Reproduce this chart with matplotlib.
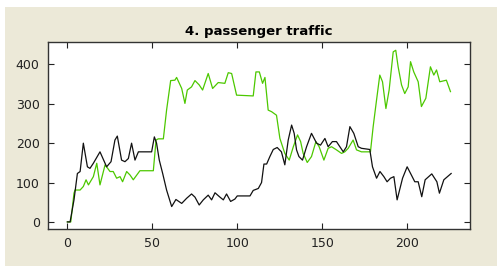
import matplotlib
matplotlib.use("Agg")
import matplotlib.pyplot as plt
import matplotlib.patches as mpatches

# vertices (x = sample index, y = passengers)
black_x = [0, 1.6, 3.9, 5.9, 7.5, 9.4, 11.8, 13.3, 15.3, 19.2, 23.1, 25.7, 28, 29.4, 31.9,
           33.9, 35.9, 37.8, 39.8, 41.8, 49.6, 51.2, 52.5, 54.1, 56.1, 58.4, 61.4, 63.9,
           67.3, 70.2, 73.1, 75.1, 77.6, 80, 82.9, 84.9, 86.9, 89.8, 91.8, 93.7, 96.1,
           98.6, 100, 107.5, 109.4, 112.4, 114.3, 115.7, 117.3, 119.2, 121.2, 123.5, 126,
           128, 130, 132, 133.5, 134.9, 136.3, 138.4, 140.8, 143.7, 146.7, 149, 151.6,
           153.5, 156, 158.4, 160.4, 162.4, 164.3, 166.3, 168.6, 171.2, 173.1, 178, 179.6,
           182, 184, 186.3, 188.2, 190.2, 192.2, 194.1, 197.3, 200, 202.5, 204.5, 206.5,
           208.6, 210.6, 214.5, 217.5, 219, 221.6, 225.9]
black_y = [0, 0, 56, 123, 128, 200, 140, 136, 149, 178, 140, 153, 208, 218, 157,
           153, 161, 200, 157, 178, 178, 216, 200, 157, 123, 81, 39, 57,
           47, 60, 71, 63, 43, 56, 68, 56, 74, 63, 56, 71, 52,
           58, 66, 66, 80, 85, 100, 147, 147, 166, 184, 189, 178,
           145, 208, 246, 225, 183, 166, 157, 191, 225, 200, 195, 212,
           191, 204, 204, 191, 178, 191, 242, 225, 191, 187, 184, 140,
           111, 128, 115, 102, 111, 115, 56, 111, 140, 119, 102, 102,
           64, 107, 122, 102, 73, 107, 123]

green_x = [0, 2, 3.9, 4.5, 7.5, 9.4, 11, 12.4, 15.3, 17.3, 19.2, 22.2, 25.1, 27, 29,
           31, 32.5, 34.9, 36.9, 38.8, 42.7, 50.6, 52.2, 53.5, 56.5, 58.4, 60.8, 63.3,
           64.3, 67.3, 69.2, 70.6, 73.1, 75.1, 77.6, 79.6, 82.9, 85.5, 88.8, 92.7, 94.7,
           96.7, 99.6, 109.4, 111, 113, 114.9, 116.3, 118.2, 120.2, 123.1, 125.1, 128,
           130.6, 133, 135.5, 137.3, 138.8, 141.2, 143.7, 146.3, 148.2, 151, 153.5,
           155.5, 158.4, 161.4, 163.3, 165.3, 168.2, 170.2, 173.1, 178.4, 180, 182,
           183.9, 185.5, 187.5, 189.4, 191.8, 193.3, 194.7, 196.7, 198.6, 200.6, 202,
           203.9, 206.5, 208.4, 211, 213.7, 215.7, 217.3, 219.2, 223.1, 225.5]
green_y = [0, 0, 73, 81, 81, 90, 107, 94, 115, 149, 94, 145, 128, 128, 111,
           115, 102, 128, 119, 107, 130, 130, 208, 211, 211, 284, 359, 360,
           367, 339, 301, 335, 343, 359, 348, 335, 377, 339, 354, 352, 379,
           377, 322, 320, 381, 381, 352, 367, 284, 280, 271, 212, 174,
           157, 191, 221, 204, 174, 151, 166, 204, 191, 157, 187,
           191, 183, 174, 178, 187, 208, 183, 178, 178, 242, 310,
           373, 356, 288, 335, 432, 436, 394, 348, 326, 343, 407,
           381, 356, 293, 314, 394, 373, 386, 356, 360, 331]

xticks = [0, 50, 100, 150, 200]
yticks = [0, 100, 200, 300, 400]

fig = plt.figure(figsize=(4.97, 2.66), dpi=100, facecolor='white')
# beige panel behind the axes (window background)
fig.patches.append(mpatches.Rectangle((5 / 497, 0), 1, 259 / 266, transform=fig.transFigure,
                                      facecolor='#ECE9D8', edgecolor='none', zorder=-1))

ax = fig.add_axes([48 / 497, 1 - 229 / 266, 422 / 497, 187 / 266])
ax.plot(green_x, green_y, color='#4cc800', linewidth=0.9)
ax.plot(black_x, black_y, color='#111111', linewidth=0.9)

ax.set_xlim(-11.4, 237)
ax.set_ylim(-18, 457)
ax.set_xticks(xticks)
ax.set_yticks(yticks)
ax.tick_params(direction='in', length=4, top=True, right=True, labelsize=9,
               colors='#222222', pad=6)
for s in ax.spines.values():
    s.set_color('#333333')
    s.set_linewidth(1.0)

ax.set_title('4. passenger traffic', fontsize=9.5, fontweight='bold', pad=5)

fig.savefig('out.png', dpi=100, facecolor=fig.get_facecolor())
